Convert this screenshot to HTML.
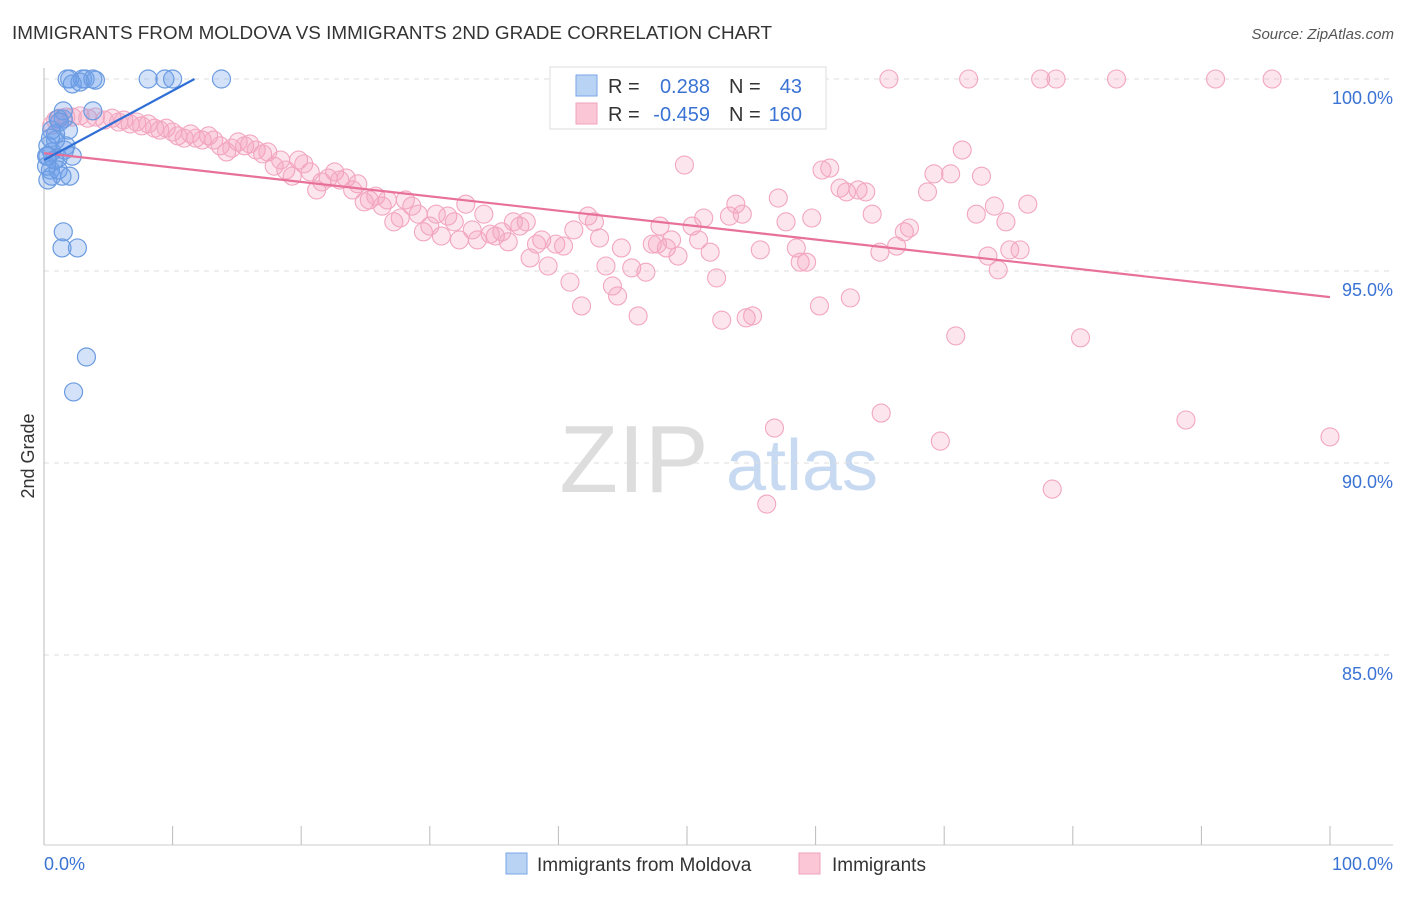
<!DOCTYPE html>
<html><head><meta charset="utf-8"><style>
body{margin:0;background:#fff;font-family:"Liberation Sans",sans-serif;}
svg text{font-family:"Liberation Sans",sans-serif;}
</style></head><body>
<svg id="c" width="1406" height="892" xmlns="http://www.w3.org/2000/svg">
<text x="12" y="39" font-size="18" fill="#333" textLength="760" lengthAdjust="spacingAndGlyphs">IMMIGRANTS FROM MOLDOVA VS IMMIGRANTS 2ND GRADE CORRELATION CHART</text>
<text x="1394" y="39" font-size="15" fill="#555" font-style="italic" text-anchor="end">Source: ZipAtlas.com</text>
<text x="34" y="456" font-size="18" fill="#333" text-anchor="middle" transform="rotate(-90 34 456)">2nd Grade</text>
<g>
<text x="634" y="492" font-size="96" fill="#ddd" font-family="Liberation Serif" text-anchor="middle">ZIP</text>
<text x="802" y="490" font-size="72" fill="#c8daf2" text-anchor="middle">atlas</text>
</g>
<g id="grid"></g><g id="axes"></g><g id="pts"></g><g id="lines"></g>
<g>
<rect x="550" y="67" width="276" height="62" fill="#fff" stroke="#ddd"/>
<rect x="576" y="75" width="21" height="21" fill="#b9d3f5" stroke="#7aa6e6"/>
<rect x="576" y="103" width="21" height="21" fill="#fbc7d6" stroke="#f0a0bc"/>
<text x="608" y="93" font-size="20" fill="#333">R =</text>
<text x="710" y="93" font-size="20" fill="#3a73d4" text-anchor="end">0.288</text>
<text x="729" y="93" font-size="20" fill="#333">N =</text>
<text x="802" y="93" font-size="20" fill="#3a73d4" text-anchor="end">43</text>
<text x="608" y="121" font-size="20" fill="#333">R =</text>
<text x="710" y="121" font-size="20" fill="#3a73d4" text-anchor="end">-0.459</text>
<text x="729" y="121" font-size="20" fill="#333">N =</text>
<text x="802" y="121" font-size="20" fill="#3a73d4" text-anchor="end">160</text>
</g>
<g>
<rect x="506" y="853" width="21" height="21" fill="#b9d3f5" stroke="#7aa6e6"/>
<text x="537" y="871" font-size="19" fill="#333">Immigrants from Moldova</text>
<rect x="799" y="853" width="21" height="21" fill="#fbc7d6" stroke="#f0a0bc"/>
<text x="832" y="871" font-size="19" fill="#333">Immigrants</text>
</g>
</svg>
<script>
const yTicks=[100,95,90,85];
const yTickLabels=["100.0%","95.0%","90.0%","85.0%"];
const xTicks=[0,10,20,30,40,50,60,70,80,90,100];
const blueX=[1.8,2.0,3.0,3.2,3.8,8.1,9.4,10.0,13.8,2.2,2.8,1.5,3.8,1.1,1.5,1.9,0.6,0.9,0.3,1.7,0.6,2.2,0.3,1.1,0.5,0.6,1.4,2.0,0.3,1.5,1.4,2.6,3.3,2.3,0.2,0.9,1.2,0.8,1.6,0.5,0.2,1.1,4.0];
const blueY=[100,100,100,100,100,100,100,100,100,99.87,99.92,99.17,99.17,98.96,98.96,98.67,98.67,98.57,98.26,98.26,98.10,97.99,97.99,97.94,97.63,97.47,97.47,97.47,97.37,96.02,95.60,95.60,92.76,91.85,97.99,98.41,98.88,97.89,98.15,98.46,97.73,97.63,99.97];
const pinkX=[65.7,71.9,77.5,78.7,83.4,91.1,95.5,60.0,0.6,0.9,1.2,1.7,2.2,2.8,3.4,4.0,4.7,5.3,5.8,6.2,6.7,7.2,7.6,8.1,8.6,9.0,9.5,10.0,10.4,10.9,11.4,11.8,12.3,12.8,13.2,13.7,14.2,14.6,15.1,15.6,16.0,16.5,17.0,17.4,17.9,18.4,18.8,19.3,19.8,20.2,20.7,21.2,21.6,22.1,22.6,23.0,23.5,24.0,24.4,24.9,25.3,25.8,26.3,26.7,27.2,27.7,28.1,28.6,29.1,29.5,30.0,30.5,30.9,31.4,31.9,32.3,32.8,33.3,33.7,34.2,34.7,35.1,35.6,36.1,36.5,37.0,37.5,37.8,38.3,38.7,39.2,39.8,40.4,40.9,41.2,41.8,42.3,42.8,43.2,43.7,44.2,44.6,44.9,45.7,46.2,46.8,47.3,47.7,47.9,48.4,48.8,49.3,49.8,50.4,50.9,51.3,51.8,52.3,52.7,53.3,53.8,54.3,54.6,55.1,55.7,56.8,57.1,57.7,58.5,58.8,59.3,59.7,60.3,60.5,61.1,61.9,62.4,62.7,63.3,63.9,64.4,65.0,65.1,66.3,66.9,67.3,68.7,69.2,69.7,70.5,70.9,71.4,72.5,72.9,73.4,73.9,74.2,74.8,75.1,75.9,76.5,78.4,80.6,56.2,88.8,100.0];
const pinkY=[100,100,100,100,100,100,100,99.11,98.80,98.93,98.98,99.01,99.01,99.04,98.98,99.01,98.93,98.98,98.88,98.93,98.83,98.88,98.78,98.83,98.72,98.67,98.72,98.62,98.52,98.46,98.57,98.46,98.41,98.52,98.41,98.26,98.10,98.20,98.36,98.26,98.31,98.15,98.05,98.10,97.73,97.89,97.63,97.47,97.89,97.79,97.58,97.11,97.32,97.42,97.58,97.37,97.42,97.11,97.27,96.80,96.85,96.95,96.69,96.85,96.28,96.38,96.85,96.69,96.48,96.02,96.17,96.48,95.91,96.43,96.28,95.81,96.74,96.07,95.81,96.48,95.96,95.91,96.02,95.76,96.28,96.17,96.28,95.34,95.70,95.81,95.13,95.70,95.65,94.71,96.07,94.09,96.43,96.28,95.86,95.13,94.61,94.35,95.60,95.08,93.83,94.97,95.70,95.70,96.17,95.60,95.81,95.39,97.76,96.17,95.81,96.38,95.49,94.82,93.72,96.43,96.74,96.48,93.78,93.83,95.55,90.91,96.90,96.28,95.60,95.23,95.23,96.38,94.09,97.63,97.68,97.16,97.06,94.30,97.11,97.06,96.48,95.49,91.30,95.65,96.02,96.12,97.06,97.53,90.57,97.53,93.31,98.15,96.48,97.47,95.39,96.69,95.03,96.28,95.55,95.55,96.74,89.32,93.26,88.93,91.12,90.68];
const blueTrend=[0,97.89,11.7,100];
const pinkTrend=[0,98.07,100,94.32];
const NS="http://www.w3.org/2000/svg";
const X0=44,X1=1330,Ytop=79,PX=38.4;
function xs(v){return X0+v*(X1-X0)/100;}
function ys(v){return Ytop+(100-v)*PX;}
function mk(tag,attrs,parent){const e=document.createElementNS(NS,tag);for(const k in attrs)e.setAttribute(k,attrs[k]);document.getElementById(parent).appendChild(e);return e;}
yTicks.forEach((t,i)=>{
 const l=mk('line',{x1:44,x2:1393,y1:ys(t),y2:ys(t),stroke:'#ddd','stroke-dasharray':'5,5'},'grid');
 
 
 const tx=mk('text',{x:1393,y:ys(t)+25,'font-size':18,fill:'#3a73d4','text-anchor':'end'},'grid');
 tx.textContent=yTickLabels[i];
 
 
});
const ax=mk('line',{x1:44,x2:44,y1:68,y2:845,stroke:'#bbb'},'axes');


const bx=mk('line',{x1:44,x2:1393,y1:845,y2:845,stroke:'#ccc'},'axes');


xTicks.forEach(t=>{
 const l=mk('line',{x1:xs(t),x2:xs(t),y1:826,y2:845,stroke:'#bbb'},'axes');
 
 
});
const xl=mk('text',{x:44,y:870,'font-size':18,fill:'#3a73d4'},'axes');xl.textContent='0.0%';


const xr=mk('text',{x:1393,y:870,'font-size':18,fill:'#3a73d4','text-anchor':'end'},'axes');xr.textContent='100.0%';


pinkX.forEach((v,i)=>{
 const c=mk('circle',{cx:xs(v),cy:ys(pinkY[i]),r:9,fill:'rgba(246,160,190,0.28)',stroke:'#f2a6c0','stroke-width':1.1},'pts');
 
 
});
blueX.forEach((v,i)=>{
 const c=mk('circle',{cx:xs(v),cy:ys(blueY[i]),r:9,fill:'rgba(110,160,235,0.3)',stroke:'#6b9be0','stroke-width':1.2},'pts');
 
 
});
const pl=mk('line',{x1:xs(pinkTrend[0]),y1:ys(pinkTrend[1]),x2:xs(pinkTrend[2]),y2:ys(pinkTrend[3]),stroke:'#e8719a','stroke-width':2.2},'lines');


const bl=mk('line',{x1:xs(blueTrend[0]),y1:ys(blueTrend[1]),x2:xs(blueTrend[2]),y2:ys(blueTrend[3]),stroke:'#2f6fd6','stroke-width':2.2},'lines');


</script>
</body></html>
